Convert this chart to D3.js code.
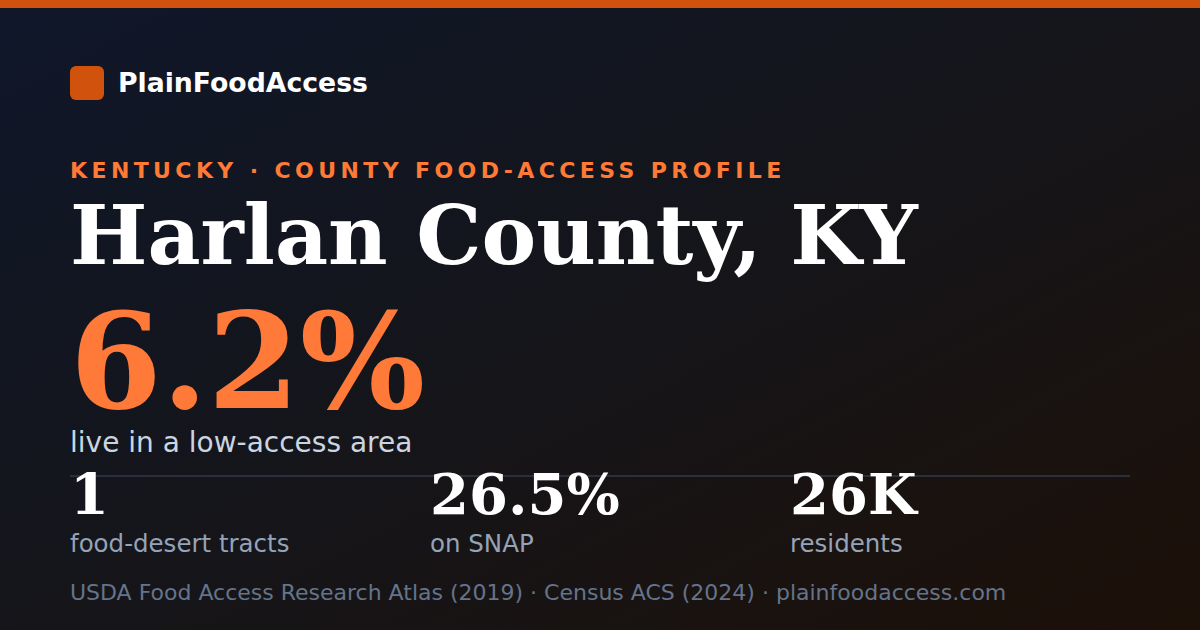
<!DOCTYPE html>
<html>
<head>
<meta charset="utf-8">
<script src="https://cdn.jsdelivr.net/npm/d3@7"></script>
<style>
  html, body { margin: 0; padding: 0; background: #111; }
  #card { width: 1200px; height: 630px; }
</style>
</head>
<body>
<div id="card"></div>
<script>
const width = 1200;
const height = 630;

const brand = "PlainFoodAccess";
const kicker = "KENTUCKY · COUNTY FOOD-ACCESS PROFILE";
const county = "Harlan County, KY";
const headlineValue = "6.2%";
const headlineLabel = "live in a low-access area";
const statValues = ["1", "26.5%", "26K"];
const statLabels = ["food-desert tracts", "on SNAP", "residents"];
const sourceNote = "USDA Food Access Research Atlas (2019) · Census ACS (2024) · plainfoodaccess.com";

const sans = "'DejaVu Sans', sans-serif";
const serif = "'DejaVu Serif', serif";

const svg = d3
  .select("#card")
  .append("svg")
  .attr("width", width)
  .attr("height", height);

// background gradient, navy top-left to brown bottom-right
const defs = svg.append("defs");
const grad = defs
  .append("linearGradient")
  .attr("id", "bg")
  .attr("x1", "0%")
  .attr("y1", "0%")
  .attr("x2", "100%")
  .attr("y2", "100%");
grad.append("stop").attr("offset", "0%").attr("stop-color", "#0f172a");
grad.append("stop").attr("offset", "50%").attr("stop-color", "#15151a");
grad.append("stop").attr("offset", "100%").attr("stop-color", "#1c1008");

svg.append("rect").attr("width", width).attr("height", height).attr("fill", "url(#bg)");
svg.append("rect").attr("width", width).attr("height", 8).attr("fill", "#d0520c");

// brand
svg.append("rect")
  .attr("x", 70).attr("y", 66)
  .attr("width", 34).attr("height", 34)
  .attr("rx", 6)
  .attr("fill", "#d0520c");
svg.append("text")
  .attr("x", 118).attr("y", 92)
  .attr("font-family", sans)
  .attr("font-weight", "bold")
  .attr("font-size", 26.7)
  .attr("fill", "#ffffff")
  .text(brand);

svg.append("text")
  .attr("x", 70).attr("y", 178)
  .attr("font-family", sans)
  .attr("font-weight", "bold")
  .attr("font-size", 22)
  .attr("letter-spacing", 4.4)
  .attr("fill", "#ff7a35")
  .text(kicker);

svg.append("text")
  .attr("x", 70).attr("y", 264)
  .attr("font-family", serif)
  .attr("font-weight", "bold")
  .attr("font-size", 82)
  .attr("fill", "#ffffff")
  .text(county);

svg.append("text")
  .attr("x", 70).attr("y", 408)
  .attr("font-family", serif)
  .attr("font-weight", "bold")
  .attr("font-size", 132)
  .attr("fill", "#ff7a38")
  .text(headlineValue);

svg.append("text")
  .attr("x", 70).attr("y", 452)
  .attr("font-family", sans)
  .attr("font-size", 28)
  .attr("fill", "#cbd5e1")
  .text(headlineLabel);

svg.append("line")
  .attr("x1", 70).attr("x2", 1130)
  .attr("y1", 476).attr("y2", 476)
  .attr("stroke", "#2a2f3b")
  .attr("stroke-width", 2);

const x = d3.scaleBand().domain(statLabels).range([70, 1150]).align(0);

const stats = svg
  .selectAll("g.stat")
  .data(statValues.map((v, i) => ({ value: v, label: statLabels[i] })))
  .join("g")
  .attr("class", "stat")
  .attr("transform", (d) => `translate(${x(d.label)},0)`);

stats.append("text")
  .attr("y", 514)
  .attr("font-family", serif)
  .attr("font-weight", "bold")
  .attr("font-size", 56)
  .attr("fill", "#ffffff")
  .text((d) => d.value);

stats.append("text")
  .attr("y", 552)
  .attr("font-family", sans)
  .attr("font-size", 24.5)
  .attr("fill", "#94a3b8")
  .text((d) => d.label);

svg.append("text")
  .attr("x", 70).attr("y", 600)
  .attr("font-family", sans)
  .attr("font-size", 22)
  .attr("fill", "#64748b")
  .text(sourceNote);
</script>
</body>
</html>
